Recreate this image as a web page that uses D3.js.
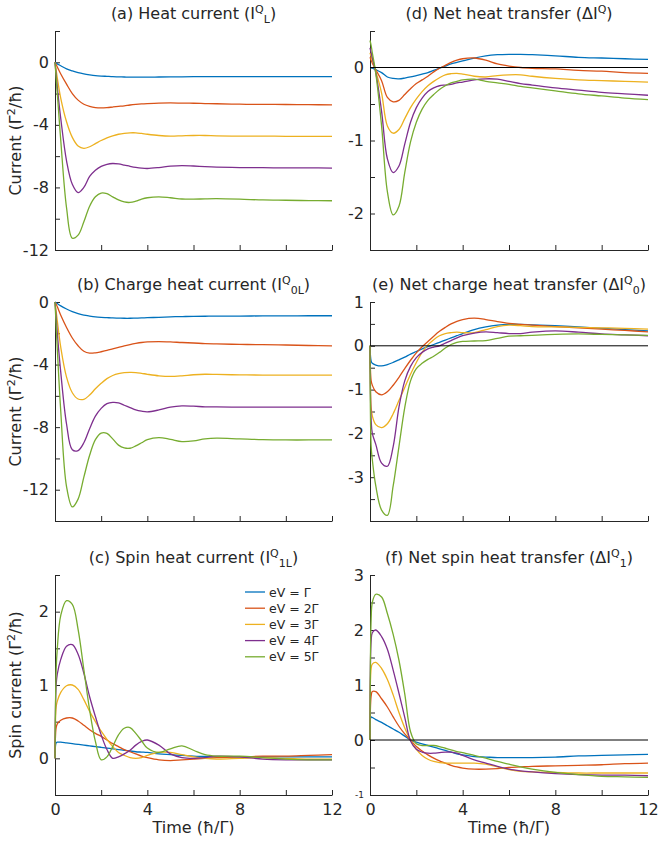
<!DOCTYPE html>
<html>
<head>
<meta charset="utf-8">
<script src="https://cdn.jsdelivr.net/npm/d3@7"></script>
<style>
  body { margin: 0; background: #fff; }
  svg { display: block; }
  text { font-family: "DejaVu Sans", sans-serif; fill: #262626; }
</style>
</head>
<body>
<div id="chart"></div>
<script>
// time grid (hbar/Gamma) shared by every curve
const time = [0, 0.05, 0.1, 0.25, 0.5, 0.75, 1, 1.25, 1.5, 1.75,
  2, 2.25, 2.5, 2.75, 3, 3.25, 3.5, 3.75, 4,
  4.5, 5, 5.5, 6, 6.5, 7,
  8, 9, 10, 11, 12];

const biasLabels = ["eV = Γ", "eV = 2Γ", "eV = 3Γ", "eV = 4Γ", "eV = 5Γ"];
const colors = ["#0072BD", "#D95319", "#EDB120", "#7E2F8E", "#77AC30"];

// (a) heat current
const heatCurrent = [
  [0, -0.05, -0.1, -0.22, -0.42, -0.55, -0.66, -0.74, -0.8, -0.85, -0.88, -0.9, -0.92, -0.93, -0.94, -0.95, -0.95, -0.95, -0.95, -0.94, -0.93, -0.93, -0.92, -0.92, -0.92, -0.92, -0.92, -0.92, -0.92, -0.92],
  [0, -0.15, -0.3, -0.75, -1.4, -2.0, -2.42, -2.68, -2.82, -2.9, -2.92, -2.9, -2.86, -2.82, -2.78, -2.73, -2.69, -2.66, -2.64, -2.61, -2.6, -2.61, -2.62, -2.64, -2.65, -2.68, -2.69, -2.7, -2.71, -2.72],
  [0, -0.5, -1.0, -2.3, -3.8, -4.8, -5.35, -5.5, -5.4, -5.2, -5.0, -4.83, -4.7, -4.6, -4.54, -4.51, -4.51, -4.55, -4.6, -4.68, -4.72, -4.7, -4.68, -4.68, -4.7, -4.72, -4.72, -4.73, -4.73, -4.73],
  [0, -0.8, -1.6, -3.6, -6.3, -7.8, -8.33, -8.0, -7.3, -6.9, -6.65, -6.52, -6.47, -6.5, -6.57, -6.65, -6.72, -6.77, -6.79, -6.73, -6.64, -6.6, -6.63, -6.67, -6.7, -6.73, -6.74, -6.75, -6.75, -6.76],
  [0, -1.0, -2.0, -5.0, -9.3, -11.25, -11.05, -10.2, -9.2, -8.6, -8.36, -8.4, -8.6, -8.8, -8.93, -8.96, -8.88, -8.75, -8.66, -8.6, -8.66, -8.74, -8.75, -8.73, -8.72, -8.75, -8.8, -8.82, -8.84, -8.85]
];

// (b) charge heat current
const chargeHeat = [
  [0, -0.05, -0.1, -0.25, -0.45, -0.62, -0.75, -0.84, -0.9, -0.95, -0.98, -1.0, -1.02, -1.03, -1.04, -1.04, -1.03, -1.02, -1.0, -0.98, -0.95, -0.93, -0.92, -0.91, -0.9, -0.9, -0.89, -0.89, -0.88, -0.88],
  [0, -0.15, -0.3, -0.85, -1.63, -2.3, -2.8, -3.15, -3.27, -3.25, -3.18, -3.1, -3.0, -2.9, -2.8, -2.72, -2.65, -2.59, -2.55, -2.53, -2.55, -2.59, -2.62, -2.66, -2.68, -2.71, -2.73, -2.75, -2.78, -2.8],
  [0, -0.6, -1.2, -2.9, -4.8, -5.8, -6.2, -6.22, -5.95, -5.55, -5.2, -4.9, -4.7, -4.58, -4.52, -4.5, -4.51, -4.56, -4.62, -4.72, -4.76, -4.72, -4.65, -4.62, -4.63, -4.66, -4.67, -4.68, -4.68, -4.68],
  [0, -1.0, -2.0, -4.5, -7.8, -9.45, -9.5, -9.0, -8.1, -7.3, -6.8, -6.5, -6.42, -6.45, -6.6, -6.75, -6.9, -6.98, -7.02, -6.9, -6.72, -6.64, -6.66, -6.7, -6.71, -6.72, -6.72, -6.72, -6.72, -6.72],
  [0, -1.5, -3.0, -7.0, -11.8, -13.1, -12.6, -11.2, -9.8, -8.8, -8.38, -8.4, -8.75, -9.15, -9.33, -9.35, -9.2, -9.0, -8.8, -8.67, -8.78, -8.92, -8.88, -8.75, -8.7, -8.75, -8.8, -8.82, -8.82, -8.82]
];

// (c) spin heat current
const spinHeat = [
  [0, 0.21, 0.22, 0.22, 0.21, 0.2, 0.19, 0.18, 0.17, 0.16, 0.15, 0.14, 0.13, 0.12, 0.11, 0.1, 0.09, 0.085, 0.08, 0.06, 0.05, 0.04, 0.03, 0.025, 0.02, 0.02, 0.02, 0.02, 0.02, 0.02],
  [0, 0.42, 0.47, 0.52, 0.55, 0.55, 0.51, 0.45, 0.39, 0.34, 0.3, 0.25, 0.2, 0.16, 0.12, 0.09, 0.06, 0.03, 0.01, -0.02, -0.03, -0.02, -0.01, 0.0, 0.01, 0.02, 0.03, 0.03, 0.04, 0.05],
  [0, 0.7, 0.78, 0.9, 0.99, 1.0, 0.94, 0.8, 0.64, 0.5, 0.37, 0.26, 0.16, 0.08, 0.04, 0.01, 0.0, 0.01, 0.04, 0.08, 0.08, 0.05, 0.02, 0.0, -0.01, 0.0, 0.01, 0.0, -0.01, -0.01],
  [0, 1.0, 1.15, 1.35, 1.53, 1.55, 1.42, 1.16, 0.84, 0.57, 0.32, 0.12, 0.0, 0.02, 0.06, 0.11, 0.18, 0.23, 0.25, 0.18, 0.06, 0.01, 0.0, 0.01, 0.03, 0.02, -0.01, -0.02, -0.02, -0.02],
  [0, 1.2, 1.5, 1.95, 2.15, 2.1, 1.76, 1.21, 0.66, 0.23, -0.02, 0.02, 0.16, 0.32, 0.41, 0.42, 0.34, 0.24, 0.14, 0.08, 0.13, 0.17, 0.11, 0.05, 0.03, 0.03, 0.01, -0.01, -0.02, -0.02]
];

// (d) net heat transfer
const netHeat = [
  [0, 0.0, -0.01, -0.03, -0.07, -0.13, -0.15, -0.155, -0.145, -0.13, -0.11, -0.09, -0.07, -0.04, -0.01, 0.02, 0.05, 0.07, 0.09, 0.13, 0.16, 0.175, 0.18, 0.18, 0.175, 0.16, 0.14, 0.13, 0.12, 0.11],
  [0.14, 0.1, 0.06, -0.03, -0.18, -0.41, -0.47, -0.45, -0.37, -0.29, -0.22, -0.17, -0.12, -0.06, -0.01, 0.03, 0.07, 0.1, 0.12, 0.13, 0.1, 0.05, 0.02, 0.0, -0.01, -0.02, -0.04, -0.05, -0.07, -0.08],
  [0.2, 0.15, 0.1, -0.05, -0.35, -0.8, -0.9, -0.85, -0.7, -0.55, -0.43, -0.33, -0.25, -0.19, -0.14, -0.1, -0.085, -0.08, -0.09, -0.12, -0.13, -0.11, -0.1, -0.1, -0.12, -0.15, -0.17, -0.18, -0.19, -0.2],
  [0.27, 0.2, 0.13, -0.07, -0.6, -1.25, -1.44, -1.35, -1.05, -0.75, -0.55, -0.42, -0.33, -0.28, -0.25, -0.24, -0.23, -0.21, -0.2, -0.17, -0.155, -0.16, -0.19, -0.22, -0.24, -0.28, -0.31, -0.34, -0.36, -0.38],
  [0.37, 0.3, 0.2, -0.08, -0.8, -1.7, -2.02, -1.9, -1.44, -1.02, -0.75, -0.57, -0.45, -0.37, -0.3, -0.25, -0.21, -0.19, -0.17, -0.16, -0.19, -0.21, -0.23, -0.26, -0.28, -0.32, -0.36, -0.39, -0.42, -0.44]
];

// (e) net charge heat transfer
const netChargeHeat = [
  [0, -0.35, -0.4, -0.44, -0.46, -0.43, -0.38, -0.32, -0.26, -0.19, -0.13, -0.07, -0.02, 0.03, 0.08, 0.13, 0.18, 0.23, 0.28, 0.37, 0.43, 0.47, 0.49, 0.49, 0.48, 0.46, 0.43, 0.4, 0.37, 0.34],
  [0, -0.8, -0.9, -1.05, -1.12, -1.05, -0.9, -0.72, -0.52, -0.33, -0.16, -0.02, 0.1, 0.22, 0.33, 0.42, 0.5, 0.56, 0.6, 0.63, 0.6, 0.55, 0.51, 0.49, 0.47, 0.44, 0.41, 0.38, 0.35, 0.32],
  [0, -1.4, -1.6, -1.8, -1.87, -1.78, -1.55, -1.25, -0.95, -0.65, -0.38, -0.15, 0.02, 0.14, 0.23, 0.28, 0.3, 0.31, 0.3, 0.3, 0.37, 0.44, 0.47, 0.46, 0.44, 0.43, 0.42, 0.41, 0.4, 0.38],
  [0, -1.7, -2.0, -2.25, -2.68, -2.75, -2.3, -1.4, -0.8, -0.47, -0.27, -0.15, -0.07, -0.03, 0.0, 0.06, 0.12, 0.18, 0.23, 0.29, 0.32, 0.3, 0.28, 0.28, 0.31, 0.34, 0.31, 0.27, 0.25, 0.23],
  [0, -2.3, -2.6, -3.2, -3.75, -3.87, -3.2, -2.3, -1.41, -0.8, -0.52, -0.4, -0.31, -0.24, -0.15, -0.05, 0.03, 0.08, 0.1, 0.11, 0.12, 0.17, 0.22, 0.23, 0.24, 0.26, 0.27, 0.26, 0.25, 0.24]
];

// (f) net spin heat transfer
const netSpinHeat = [
  [0, 0.42, 0.41, 0.37, 0.32, 0.26, 0.2, 0.14, 0.07, 0.0, -0.04, -0.07, -0.1, -0.13, -0.16, -0.19, -0.22, -0.25, -0.27, -0.3, -0.31, -0.32, -0.32, -0.32, -0.32, -0.31, -0.29, -0.28, -0.27, -0.26],
  [0, 0.8, 0.88, 0.88, 0.75, 0.6, 0.42, 0.25, 0.11, 0.0, -0.12, -0.2, -0.27, -0.33, -0.38, -0.42, -0.46, -0.49, -0.51, -0.53, -0.53, -0.52, -0.5, -0.49, -0.48, -0.47, -0.46, -0.45, -0.43, -0.42],
  [0, 1.3, 1.38, 1.41, 1.3, 1.1, 0.82, 0.5, 0.22, 0.0, -0.17, -0.28, -0.35, -0.39, -0.41, -0.42, -0.42, -0.42, -0.42, -0.42, -0.44, -0.49, -0.54, -0.57, -0.58, -0.59, -0.6, -0.6, -0.6, -0.6],
  [0, 1.8, 1.95, 2.0, 1.88, 1.65, 1.27, 0.85, 0.41, -0.02, -0.17, -0.22, -0.24, -0.24, -0.23, -0.22, -0.22, -0.24, -0.28, -0.36, -0.42, -0.48, -0.53, -0.56, -0.58, -0.61, -0.63, -0.64, -0.64, -0.65],
  [0, 2.2, 2.5, 2.65, 2.6, 2.3, 1.92, 1.45, 0.84, 0.15, -0.07, -0.1, -0.1, -0.1, -0.12, -0.15, -0.18, -0.21, -0.23, -0.28, -0.33, -0.39, -0.44, -0.49, -0.53, -0.59, -0.63, -0.66, -0.67, -0.68]
];

const xTicks = [0, 2, 4, 6, 8, 10, 12];
const xTickLabels = [0, 4, 8, 12];

/* layout */
const W = 660, H = 844;
const cols = [[55, 332], [370, 648]];
const rows = [[31, 250], [302, 521], [575, 795]];

const panels = [
  { data: heatCurrent, col: 0, row: 0, yDomain: [-12, 2], yStep: 2, yLabels: [-12, -8, -4, 0],
    title: [["(a) Heat current (I"], ["Q", "sup"], ["L", "sub"], [")"]], ylabel: "Current" },
  { data: chargeHeat, col: 0, row: 1, yDomain: [-14, 0], yStep: 2, yLabels: [-12, -8, -4, 0],
    title: [["(b) Charge heat current (I"], ["Q", "sup"], ["0L", "sub"], [")"]], ylabel: "Current" },
  { data: spinHeat, col: 0, row: 2, yDomain: [-0.5, 2.5], yStep: 0.5, yLabels: [0, 1, 2],
    title: [["(c) Spin heat current (I"], ["Q", "sup"], ["1L", "sub"], [")"]], ylabel: "Spin current", legend: true },
  { data: netHeat, col: 1, row: 0, yDomain: [-2.5, 0.5], yStep: 0.5, yLabels: [-2, -1, 0],
    title: [["(d) Net heat transfer (ΔI"], ["Q", "sup"], [")"]], zero: true },
  { data: netChargeHeat, col: 1, row: 1, yDomain: [-4, 1], yStep: 0.5, yLabels: [-3, -2, -1, 0, 1],
    title: [["(e) Net charge heat transfer (ΔI"], ["Q", "sup"], ["0", "sub"], [")"]], zero: true },
  { data: netSpinHeat, col: 1, row: 2, yDomain: [-1, 3], yStep: 0.5, yLabels: [-1, 0, 1, 2, 3],
    title: [["(f) Net spin heat transfer (ΔI"], ["Q", "sup"], ["1", "sub"], [")"]], zero: true, tinyBottom: true }
];

const svg = d3.select("#chart").append("svg")
  .attr("width", W)
  .attr("height", H);

// writes text with small raised / lowered parts
function richText(sel, parts) {
  let off = 0;
  parts.forEach(p => {
    const target = p[1] === "sup" ? -6 : p[1] === "sub" ? 4 : 0;
    sel.append("tspan")
      .attr("dy", target - off)
      .style("font-size", p[1] ? "11px" : null)
      .text(p[0]);
    off = target;
  });
}

panels.forEach(p => {
  const [xa, xb] = cols[p.col];
  const [ya, yb] = rows[p.row];
  const x = d3.scaleLinear().domain([0, 12]).range([xa, xb]);
  const y = d3.scaleLinear().domain(p.yDomain).range([yb, ya]);
  const g = svg.append("g");

  const yTicks = d3.range(p.yDomain[0], p.yDomain[1] + 1e-9, p.yStep).map(v => +v.toFixed(2));

  // y axis, ticks point inward
  const yAx = g.append("g")
    .attr("transform", `translate(${xa},0)`)
    .call(d3.axisLeft(y).tickValues(yTicks).tickSizeInner(-5).tickSizeOuter(0).tickPadding(6)
      .tickFormat(d => p.yLabels.includes(d) ? String(d) : ""));

  const bottom = p.row === 2;
  const xAx = g.append("g")
    .attr("transform", `translate(0,${yb})`)
    .call(d3.axisBottom(x).tickValues(xTicks).tickSizeInner(-5).tickSizeOuter(0).tickPadding(9)
      .tickFormat(d => bottom && xTickLabels.includes(d) ? String(d) : ""));

  [yAx, xAx].forEach(a => {
    a.select(".domain").attr("stroke", "#262626");
    a.selectAll(".tick line").attr("stroke", "#262626");
    a.selectAll("text").attr("fill", "#262626").style("font-size", "16px")
      .style("font-family", "'DejaVu Sans', sans-serif");
  });
  if (p.tinyBottom) {
    yAx.selectAll(".tick text").filter(d => d === -1).style("font-size", "9px");
  }

  // curves
  const line = d3.line()
    .x((d, i) => x(time[i]))
    .y(d => y(d))
    .curve(d3.curveCatmullRom.alpha(0.5));

  g.selectAll(".curve")
    .data(p.data)
    .join("path")
    .attr("class", "curve")
    .attr("d", d => line(d))
    .attr("fill", "none")
    .attr("stroke", (d, i) => colors[i])
    .attr("stroke-width", 1.3);

  if (p.zero) {
    g.append("line")
      .attr("x1", xa).attr("x2", xb)
      .attr("y1", y(0)).attr("y2", y(0))
      .attr("stroke", "black")
      .attr("stroke-width", 1);
  }

  // title
  const title = g.append("text")
    .attr("x", (xa + xb) / 2)
    .attr("y", ya - 12)
    .attr("text-anchor", "middle")
    .style("font-size", "16px");
  richText(title, p.title);

  // y label
  if (p.ylabel) {
    const yl = g.append("text")
      .attr("transform", `translate(21,${(ya + yb) / 2}) rotate(-90)`)
      .attr("text-anchor", "middle")
      .style("font-size", "16px");
    richText(yl, [[p.ylabel + " (Γ"], ["2", "sup"], ["/ħ)"]]);
  }

  if (bottom) {
    g.append("text")
      .attr("x", (xa + xb) / 2)
      .attr("y", 833)
      .attr("text-anchor", "middle")
      .style("font-size", "16px")
      .text("Time (ħ/Γ)");
  }

  if (p.legend) {
    const lg = g.append("g").attr("transform", "translate(245,592)");
    biasLabels.forEach((lab, i) => {
      lg.append("line")
        .attr("x1", 0).attr("x2", 20)
        .attr("y1", i * 16.2).attr("y2", i * 16.2)
        .attr("stroke", colors[i])
        .attr("stroke-width", 1.3);
      lg.append("text")
        .attr("x", 24)
        .attr("y", i * 16.2 + 4.5)
        .style("font-size", "12.5px")
        .text(lab);
    });
  }
});
</script>
</body>
</html>
